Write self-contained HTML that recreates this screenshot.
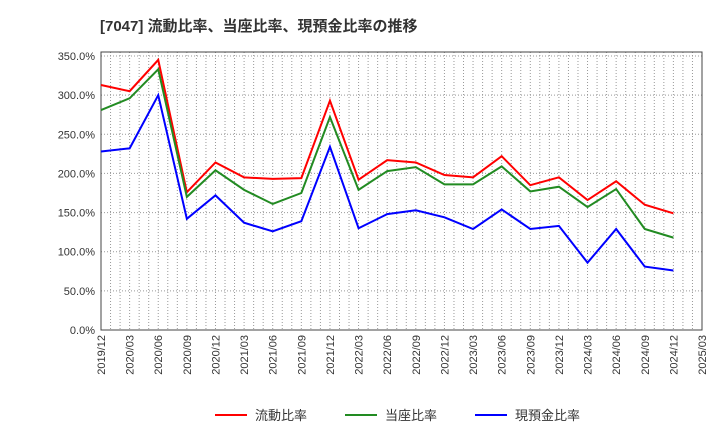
<!DOCTYPE html>
<html><head><meta charset="utf-8"><style>
body{margin:0;background:#fff;}
svg text{font-family:"Liberation Sans","Noto Sans CJK JP",sans-serif;}
</style></head><body>
<svg id="chart" width="720" height="440" xmlns="http://www.w3.org/2000/svg">
<text x="100" y="31" font-size="15" font-weight="bold" fill="#333">[7047]  流動比率、当座比率、現預金比率の推移</text>
<g id="grid"></g><g id="axes"></g><g id="series"></g><g id="legend"></g>
</svg>
<script>
const categories=["2019/12","2020/03","2020/06","2020/09","2020/12","2021/03","2021/06","2021/09","2021/12","2022/03","2022/06","2022/09","2022/12","2023/03","2023/06","2023/09","2023/12","2024/03","2024/06","2024/09","2024/12"];
const tickLabels=["2019/12","2020/03","2020/06","2020/09","2020/12","2021/03","2021/06","2021/09","2021/12","2022/03","2022/06","2022/09","2022/12","2023/03","2023/06","2023/09","2023/12","2024/03","2024/06","2024/09","2024/12","2025/03"];
const yTicks=[0,50,100,150,200,250,300,350];
const currentRatio=[313,305,345,176,214,195,193,194,293,192,217,214,198,195,222,185,195,166,190,160,149];
const quickRatio=[281,296,333,170,204,179,161,175,272,179,203,208,186,186,209,177,183,157,180,129,118];
const cashRatio=[228,232,300,142,172,137,126,139,234,130,148,153,144,129,154,129,133,86,129,81,76];
const seriesNames=["流動比率","当座比率","現預金比率"];
const NS="http://www.w3.org/2000/svg";
const L=101,R=702,T=52,B=330;
function monthIdx(s){const [y,m]=s.split("/").map(Number);return (y-2019)*12+m-12;}
const X=s=>L+monthIdx(s)*(R-L)/63;
const Y=v=>B-v*(B-56)/350;
function mk(tag,attrs,parent){const e=document.createElementNS(NS,tag);for(const k in attrs)e.setAttribute(k,attrs[k]);parent.appendChild(e);return e;}
const grid=document.getElementById("grid"),axes=document.getElementById("axes"),ser=document.getElementById("series"),leg=document.getElementById("legend");
for(let m=1;m<63;m++){const x=L+m*(R-L)/63;const g=mk("line",{x1:x,x2:x,y1:T,y2:B,stroke:"#999","stroke-width":1,"stroke-dasharray":"1,2"},grid);

}
yTicks.forEach(v=>{const y=Y(v);const g=mk("line",{x1:L,x2:R,y1:y,y2:y,stroke:"#999","stroke-width":1,"stroke-dasharray":"1,2"},grid);


const t=mk("text",{x:L-6,y:y+4,"font-size":11,"text-anchor":"end",fill:"#333"},axes);t.textContent=v.toFixed(1)+"%";

});
const frame=mk("rect",{x:L,y:T,width:R-L,height:B-T,fill:"none",stroke:"#444","stroke-width":1},axes);


tickLabels.forEach(c=>{const x=X(c);const t=mk("text",{transform:`translate(${x+4},${B+5}) rotate(-90)`,"font-size":11,"text-anchor":"end",fill:"#333"},axes);t.textContent=c;

});
const colors=["#ff0000","#228b22","#0000ff"];
[currentRatio,quickRatio,cashRatio].forEach((d,i)=>{const pts=d.map((v,j)=>X(categories[j])+","+Y(v)).join(" ");
const p=mk("polyline",{points:pts,fill:"none",stroke:colors[i],"stroke-width":2},ser);


const lx=[215,345,475][i];
const ll=mk("line",{x1:lx,x2:lx+32,y1:415,y2:415,stroke:colors[i],"stroke-width":2},leg);


const lt=mk("text",{x:lx+40,y:420,"font-size":13,fill:"#333"},leg);lt.textContent=seriesNames[i];

});
</script>
</body></html>
